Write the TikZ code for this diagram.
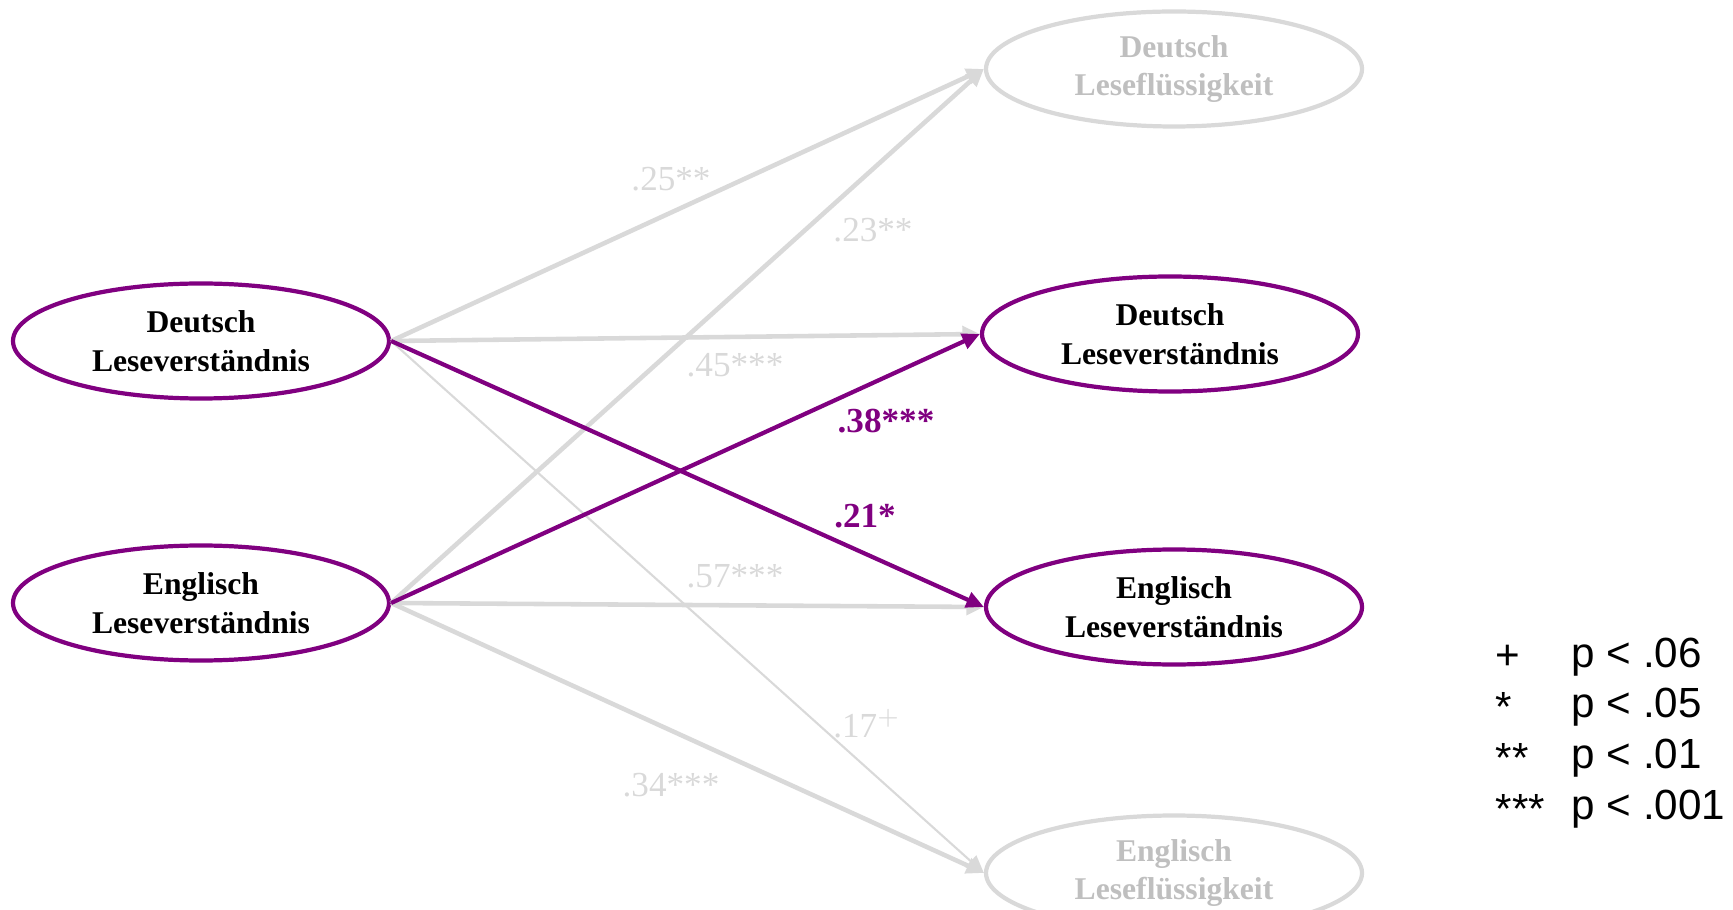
\documentclass[tikz,border=0pt]{standalone}
\usepackage{fontspec}
\setmainfont{Liberation Serif}
\newfontfamily\legendfont{Liberation Sans}
\usetikzlibrary{shapes.geometric,arrows.meta}
\definecolor{lilac}{RGB}{128,0,128}
\definecolor{pale}{RGB}{217,217,217}
\definecolor{paletext}{RGB}{191,191,191}
\begin{document}
\begin{tikzpicture}[
    construct/.style={ellipse,draw=lilac,line width=1.2pt,minimum width=3.76cm,
      minimum height=1.15cm,inner sep=0pt,align=center,
      font=\fontsize{9}{11}\selectfont\bfseries},
    faded/.style={construct,draw=pale,text=paletext},
    strongpath/.style={draw=lilac,line width=1.2pt,-{Triangle[length=5pt,width=4.5pt]}},
    weakpath/.style={draw=pale,line width=1.3pt,-{Triangle[length=5pt,width=4.5pt]}},
    thinpath/.style={draw=pale,line width=0.6pt,-{Triangle[length=5pt,width=4.5pt]}},
    coef/.style={text=pale,font=\fontsize{10}{12}\selectfont},
    coefbold/.style={text=lilac,font=\fontsize{10}{12}\selectfont\bfseries},
    legendtext/.style={anchor=west,inner sep=0pt,font=\legendfont\fontsize{12}{14}\selectfont}
  ]
  \useasboundingbox (0,0) rectangle (17.33,-9.10);
  % predictors
  \node[construct] (dl) at (2.01,-3.41) {Deutsch\\Leseverständnis};
  \node[construct] (el) at (2.01,-6.03) {Englisch\\Leseverständnis};
  % outcomes
  \node[faded] (df) at (11.74,-0.69) {Deutsch\\Leseflüssigkeit};
  \node[construct] (dlr) at (11.70,-3.34) {Deutsch\\Leseverständnis};
  \node[construct] (elr) at (11.74,-6.07) {Englisch\\Leseverständnis};
  \node[faded] (ef) at (11.74,-8.73) {Englisch\\Leseflüssigkeit};
  % paths
  \draw[weakpath] (dl.east) -- (df.west);
  \draw[weakpath] (el.east) -- (df.west);
  \draw[weakpath] (dl.east) -- (dlr.west);
  \draw[weakpath] (el.east) -- (elr.west);
  \draw[thinpath] (dl.east) -- (ef.west);
  \draw[weakpath] (el.east) -- (ef.west);
  \draw[strongpath] (el.east) -- (dlr.west);
  \draw[strongpath] (dl.east) -- (elr.west);
  % coefficients
  \node[coef] (c1) at (6.71,-1.79) {.25**};
  \node[coef] (c2) at (8.73,-2.30) {.23**};
  \node[coef] (c3) at (7.35,-3.65) {.45***};
  \node[coefbold] (c4) at (8.86,-4.21) {.38***};
  \node[coefbold] (c5) at (8.65,-5.16) {.21*};
  \node[coef] (c6) at (7.35,-5.76) {.57***};
  \node[coef] (c7) at (8.67,-7.24) {.17$^{+}$};
  \node[coef] (c8) at (6.71,-7.85) {.34***};
  % legend
  \node[legendtext] (s1) at (14.95,-6.57) {+};
  \node[legendtext] (s2) at (14.95,-7.07) {*};
  \node[legendtext] (s3) at (14.95,-7.58) {**};
  \node[legendtext] (s4) at (14.95,-8.09) {***};
  \node[legendtext] (p1) at (15.71,-6.57) {p < .06};
  \node[legendtext] (p2) at (15.71,-7.07) {p < .05};
  \node[legendtext] (p3) at (15.71,-7.58) {p < .01};
  \node[legendtext] (p4) at (15.71,-8.09) {p < .001};
\end{tikzpicture}
\end{document}
